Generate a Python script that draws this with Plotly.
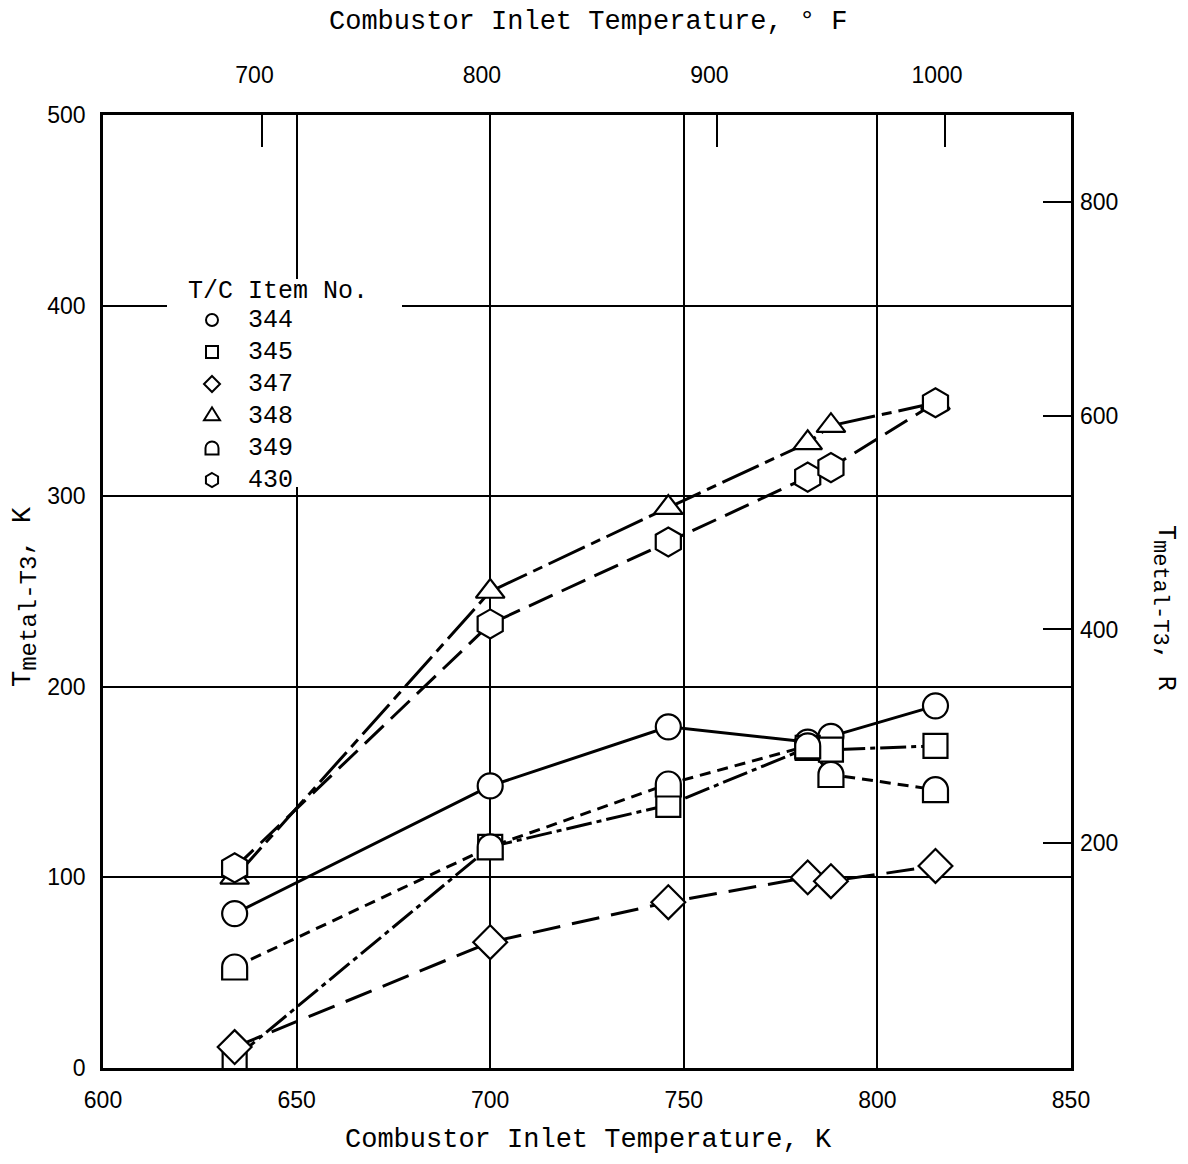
import math
import plotly.graph_objects as go

# ---------------- data ----------------
temp_k = [634, 700, 746, 782, 788, 815]
item_344 = [81, 148, 179, 171, 174, 190]
item_345 = [5, 116, 138, 168, 167, 169]
item_347 = [11, 66, 87, 100, 98, 106]
item_348 = [100, 250, 294, 328, 337, 349]
item_349 = [53, 116, 149, 169, 154, 146]
item_430 = [105, 233, 276, 310, 315, 349]

item_names = ["344", "345", "347", "348", "349", "430"]
x_ticks_k = [600, 650, 700, 750, 800, 850]
y_ticks_k = [0, 100, 200, 300, 400, 500]
x_ticks_f = [700, 800, 900, 1000]
y_ticks_r = [200, 400, 600, 800]

# ---------------- styles ----------------
series = [item_344, item_345, item_347, item_348, item_349, item_430]
dashes = ["solid", "26px,5px,5px,5px", "28px,12px", "40px,7px,10px,7px", "11px,7px", "26px,10px"]
symbols = ["circle", "square", "diamond", "triangle-up", None, "hexagon"]
sizes = [25, 24, 26, 25, 25, 29]

MONO = "Liberation Mono"
SANS = "Liberation Sans"

# page geometry (the page body has an 8px margin)
OFF = 8
L_PIX, R_PIX, T_PIX, B_PIX = 103, 1071, 115, 1068
PW, PH = R_PIX - L_PIX, B_PIX - T_PIX
FIG_W, FIG_H = 1188 - 2 * OFF, 1164 - 2 * OFF
X_RANGE = [600, 850]
Y_RANGE = [0, 500]


def px_x(p):
    return (p - L_PIX) / PW


def px_y(p):
    return (B_PIX - p) / PH


def data_x(p):
    return X_RANGE[0] + px_x(p) * (X_RANGE[1] - X_RANGE[0])


def data_y(p):
    return Y_RANGE[0] + px_y(p) * (Y_RANGE[1] - Y_RANGE[0])


fig = go.Figure()

# lines first
for vals, dsh in zip(series, dashes):
    fig.add_trace(go.Scatter(x=temp_k, y=vals, mode="lines",
                             line=dict(color="black", width=3, dash=dsh),
                             showlegend=False, hoverinfo="skip"))

# markers on top
for vals, sym, sz in zip(series, symbols, sizes):
    if sym is None:
        continue
    fig.add_trace(go.Scatter(x=temp_k, y=vals, mode="markers",
                             marker=dict(symbol=sym, size=sz, color="white",
                                         line=dict(color="black", width=2.2)),
                             showlegend=False, hoverinfo="skip"))


# ---------------- glyph paths (pixel units, y up) ----------------
def dome_path(w, h):
    r = w / 2.0
    ys = h / 2.0 - r
    k = 0.5523 * r
    return (f"M{-r},{-h/2} L{-r},{ys} C{-r},{ys+k} {-k},{ys+r} 0,{ys+r} "
            f"C{k},{ys+r} {r},{ys+k} {r},{ys} L{r},{-h/2} Z")


def circle_path(d):
    r = d / 2.0
    k = 0.5523 * r
    return (f"M{r},0 C{r},{k} {k},{r} 0,{r} C{-k},{r} {-r},{k} {-r},0 "
            f"C{-r},{-k} {-k},{-r} 0,{-r} C{k},{-r} {r},{-k} {r},0 Z")


def square_path(s):
    h = s / 2.0
    return f"M{-h},{-h} L{-h},{h} L{h},{h} L{h},{-h} Z"


def diamond_path(d):
    h = d / 2.0
    return f"M0,{h} L{h},0 L0,{-h} L{-h},0 Z"


def triangle_path(w, h):
    return f"M{-w/2},{-h/3} L{w/2},{-h/3} L0,{2*h/3} Z"


def hexagon_path(hgt):
    r = hgt / 2.0
    pts = [(r * math.cos(math.radians(a)), r * math.sin(math.radians(a)))
           for a in (90, 30, -30, -90, -150, 150)]
    return "M" + " L".join(f"{px:.2f},{py:.2f}" for px, py in pts) + " Z"


# dome-shaped markers for item 349
for xv, yv in zip(temp_k, item_349):
    fig.add_shape(type="path", xref="x", yref="y", xsizemode="pixel", ysizemode="pixel",
                  xanchor=xv, yanchor=yv, path=dome_path(25, 25),
                  fillcolor="white", line=dict(color="black", width=2.2), layer="above")

# dummy traces to activate secondary axes
fig.add_trace(go.Scatter(x=[None], y=[None], xaxis="x2", yaxis="y", showlegend=False, hoverinfo="skip"))
fig.add_trace(go.Scatter(x=[None], y=[None], xaxis="x", yaxis="y2", showlegend=False, hoverinfo="skip"))

# ---------------- legend box (inside plot) ----------------
box = (167, 402, 279, 487)  # left, right, top, bottom in page px
fig.add_shape(type="rect", xref="x", yref="y",
              x0=data_x(box[0]), x1=data_x(box[1]), y0=data_y(box[3]), y1=data_y(box[2]),
              fillcolor="white", line=dict(width=0), layer="above")

sym_x = data_x(212)
lab_x = data_x(246)
row_y = [data_y(320 + 32 * i) for i in range(len(item_names))]
legend_glyphs = [circle_path(12), square_path(12), diamond_path(16),
                 triangle_path(16, 13), dome_path(13, 13), hexagon_path(14)]
for i, g in enumerate(legend_glyphs):
    fig.add_shape(type="path", xref="x", yref="y", xsizemode="pixel", ysizemode="pixel",
                  xanchor=sym_x, yanchor=row_y[i], path=g,
                  fillcolor="white", line=dict(color="black", width=2), layer="above")
for i, name in enumerate(item_names):
    fig.add_annotation(xref="x", yref="y", x=lab_x, y=row_y[i], text=name, showarrow=False,
                       xanchor="left", yanchor="middle", font=dict(family=MONO, size=25, color="black"))
fig.add_annotation(xref="x", yref="y", x=data_x(278), y=data_y(291),
                   text="T/C Item No.", showarrow=False, xanchor="center", yanchor="middle",
                   font=dict(family=MONO, size=25, color="black"))

# ---------------- axis titles ----------------
fig.add_annotation(xref="paper", yref="paper", x=px_x(588), y=px_y(1140),
                   xanchor="center", yanchor="middle",
                   text="Combustor Inlet Temperature, K", showarrow=False,
                   font=dict(family=MONO, size=27, color="black"))
fig.add_annotation(xref="paper", yref="paper", x=px_x(588), y=px_y(22),
                   xanchor="center", yanchor="middle",
                   text="Combustor Inlet Temperature, ° F", showarrow=False,
                   font=dict(family=MONO, size=27, color="black"))
fig.add_annotation(xref="paper", yref="paper", x=px_x(25), y=px_y(597),
                   xanchor="center", yanchor="middle",
                   text="T<sub><span style='font-size:24px'>metal-T3</span></sub>, K",
                   showarrow=False, textangle=-90,
                   font=dict(family=MONO, size=27, color="black"))
fig.add_annotation(xref="paper", yref="paper", x=px_x(1164), y=px_y(608),
                   xanchor="center", yanchor="middle",
                   text="T<sub><span style='font-size:22px'>metal-T3</span></sub>, R",
                   showarrow=False, textangle=90,
                   font=dict(family=MONO, size=25, color="black"))

tickfont = dict(family=SANS, size=23, color="black")

fig.update_layout(
    width=FIG_W, height=FIG_H,
    margin=dict(l=L_PIX - OFF, r=FIG_W - (R_PIX - OFF), t=T_PIX - OFF, b=FIG_H - (B_PIX - OFF)),
    paper_bgcolor="white", plot_bgcolor="white",
    showlegend=False,
    xaxis=dict(range=X_RANGE, tickvals=x_ticks_k, showgrid=True, gridcolor="black", gridwidth=1.6,
               showline=True, linecolor="black", linewidth=2.5, mirror=True, ticks="",
               zeroline=False, tickfont=tickfont, ticklabelstandoff=10),
    yaxis=dict(range=Y_RANGE, tickvals=y_ticks_k, showgrid=True, gridcolor="black", gridwidth=1.6,
               showline=True, linecolor="black", linewidth=2.5, mirror=True, ticks="",
               zeroline=False, tickfont=tickfont, ticklabelstandoff=10),
    xaxis2=dict(overlaying="x", side="top", range=[629.9, 1055.4], tickvals=x_ticks_f,
                ticks="inside", ticklen=32, tickwidth=2, tickcolor="black", showgrid=False,
                showline=False, zeroline=False, tickfont=tickfont, ticklabelstandoff=26,
                ticklabelshift=-8),
    yaxis2=dict(overlaying="y", side="right", range=[-10.6, 881.7], tickvals=y_ticks_r,
                ticks="inside", ticklen=28, tickwidth=2, tickcolor="black", showgrid=False,
                showline=False, zeroline=False, tickfont=tickfont, ticklabelstandoff=8),
)

fig.write_html("out.html")
